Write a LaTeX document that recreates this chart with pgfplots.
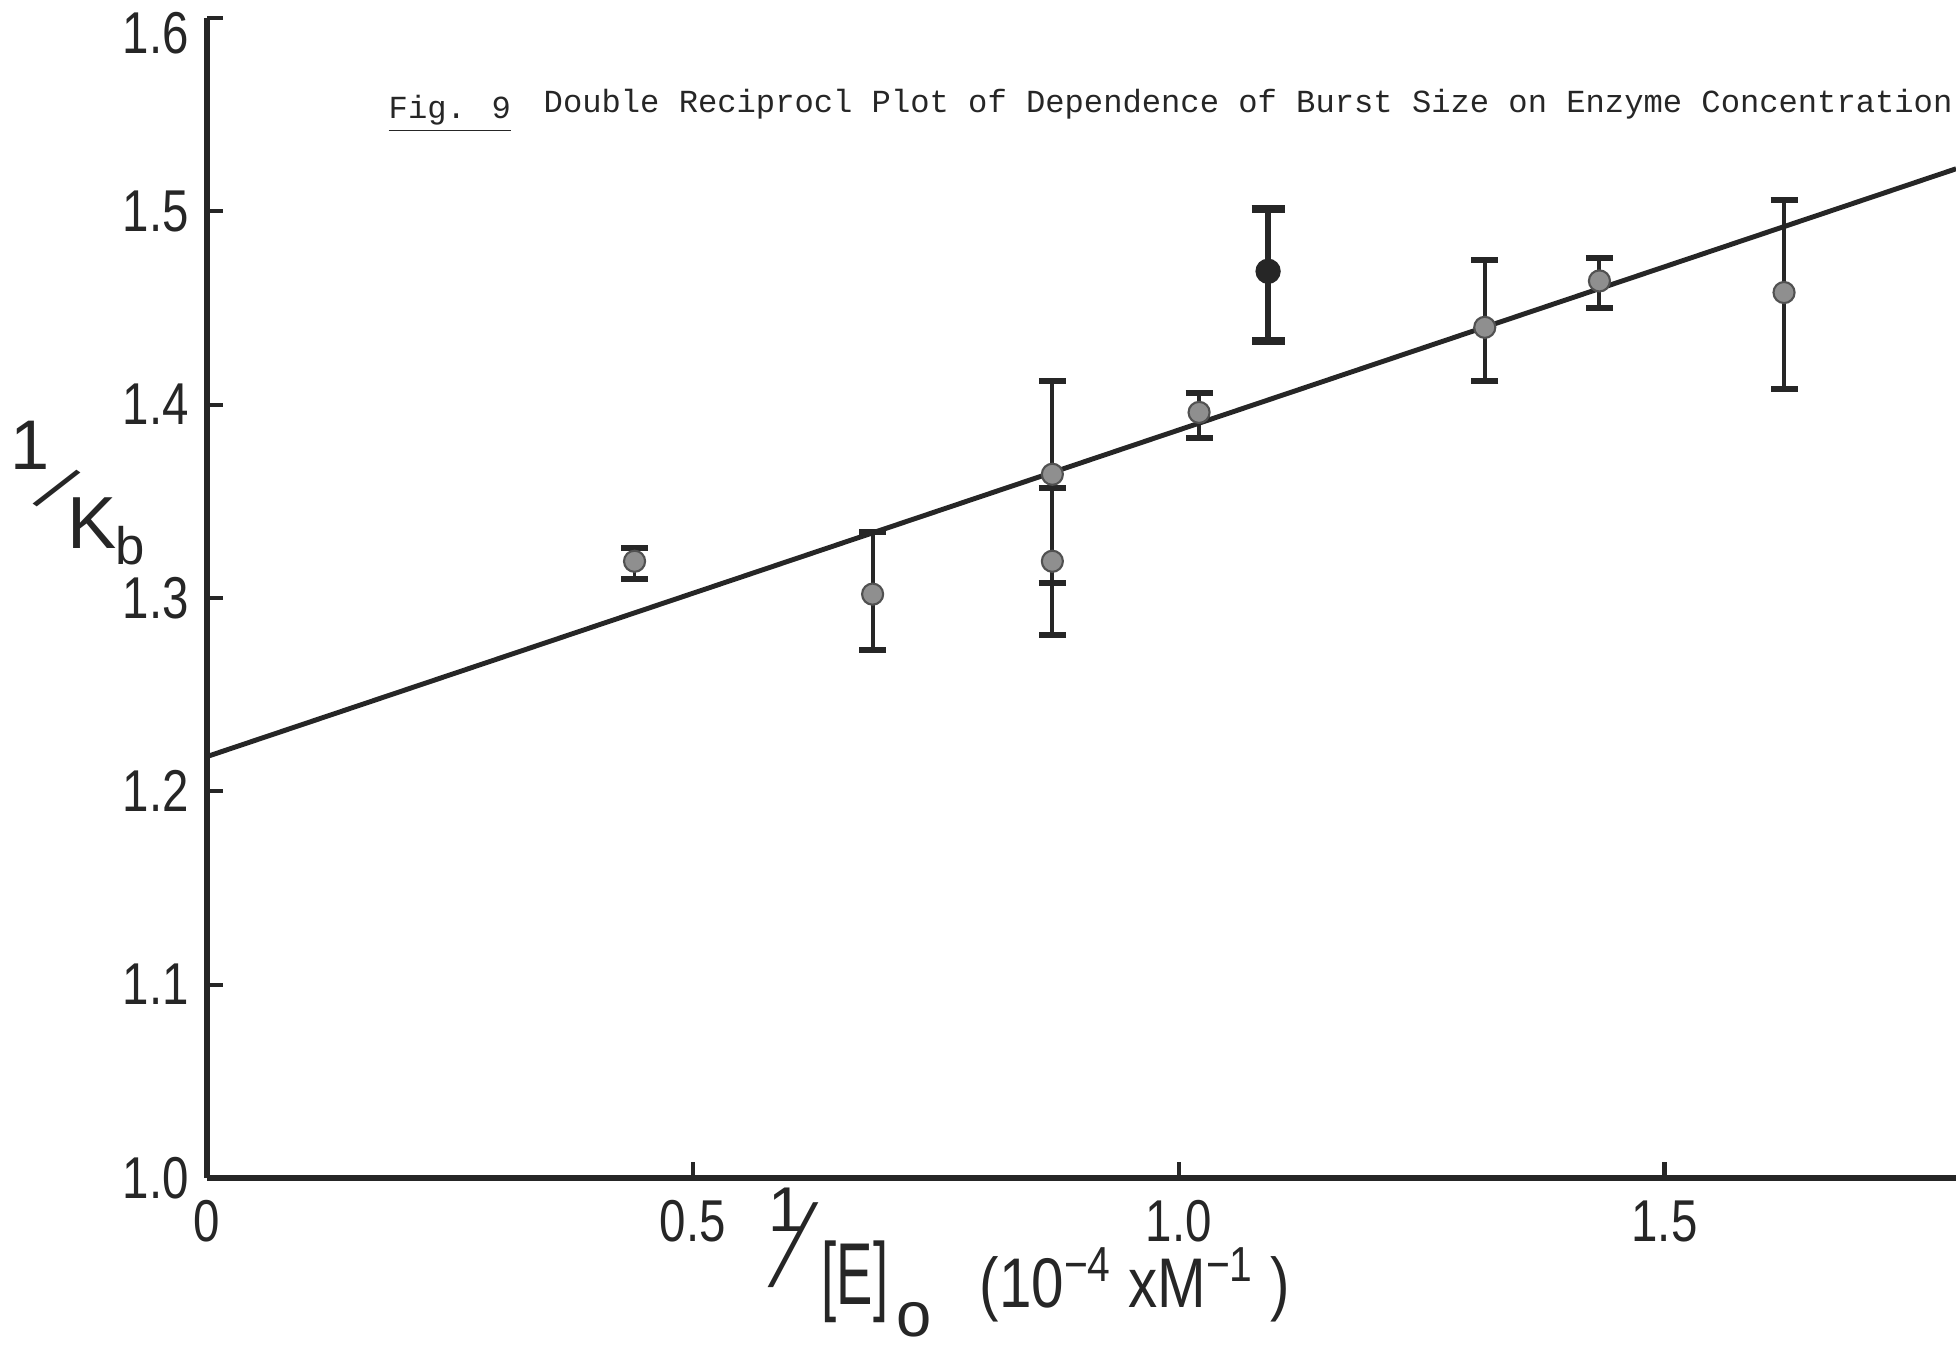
\documentclass[border=0pt]{standalone}
\usepackage{pgfplots}
\usepackage{pgfplotstable}
\pgfplotsset{compat=1.18}
\usepackage{fontspec}
\setmainfont{Liberation Sans}
\newfontfamily\tw{Liberation Mono}
\definecolor{ink}{HTML}{262626}
\definecolor{dotfill}{HTML}{8F8F8F}
\newcommand{\tl}[1]{\scalebox{0.9}[1.12]{#1}}

\pgfplotstableread{
x y ep em
0.440 1.319 0.007 0.009
0.685 1.302 0.032 0.029
0.870 1.364 0.048 0.007
0.870 1.319 0.038 0.038
1.021 1.396 0.010 0.013
1.315 1.440 0.035 0.028
1.433 1.464 0.012 0.014
1.623 1.458 0.048 0.050
}\graypts
\pgfplotstableread{
x y ep em
1.092 1.469 0.032 0.036
}\darkpts
\pgfplotstableread{
x y ep em
0.870 1.308 0 0
}\extracap

\begin{document}
\begin{tikzpicture}[x=1mm,y=1mm]
\begin{axis}[
  at={(20.7mm,16.7mm)}, anchor=south west,
  scale only axis, width=174.9mm, height=116mm,
  xmin=0, xmax=1.8, ymin=1.0, ymax=1.6,
  axis lines=left,
  axis line style={-, line width=1.8pt, draw=ink},
  clip=false,
  tick align=inside,
  major tick length=1.6mm,
  tick style={line width=1.2pt, draw=ink},
  xtick={0,0.5,1.0,1.5},
  xticklabels={\tl{0},\tl{0.5},\tl{1.0},\tl{1.5}},
  ytick={1.0,1.1,1.2,1.3,1.4,1.5},
  yticklabels={\tl{1.0},\tl{1.1},\tl{1.2},\tl{1.3},\tl{1.4},\tl{1.5}},
  extra y ticks={1.6},
  extra y tick labels={\tl{1.6}},
  extra y tick style={yticklabel style={yshift=-1.5mm}},
  ticklabel style={font=\fontsize{15}{15}\selectfont, text=ink},
  xticklabel style={yshift=-1.0mm},
  yticklabel style={xshift=-0.6mm},
]
\addplot[ink, line width=1.4pt] coordinates {(0,1.218) (1.8,1.522)};
\addplot[only marks, mark=*, mark size=3.0pt,
  mark options={fill=dotfill, draw=ink!80, line width=0.6pt},
  error bars/.cd, y dir=both, y explicit,
  error bar style={line width=1.1pt, draw=ink},
  error mark options={rotate=90, mark size=1.35mm, line width=1.7pt, draw=ink}]
  table[x=x, y=y, y error plus=ep, y error minus=em] {\graypts};
\addplot[only marks, mark=*, mark size=3.3pt,
  mark options={fill=ink, draw=ink, line width=0.6pt},
  error bars/.cd, y dir=both, y explicit,
  error bar style={line width=1.6pt, draw=ink},
  error mark options={rotate=90, mark size=1.65mm, line width=2.3pt, draw=ink}]
  table[x=x, y=y, y error plus=ep, y error minus=em] {\darkpts};
\addplot[only marks, mark=*, mark size=0pt, mark options={draw=none, fill=none},
  error bars/.cd, y dir=both, y explicit,
  error bar style={line width=1.1pt, draw=ink},
  error mark options={rotate=90, mark size=1.35mm, line width=1.7pt, draw=ink}]
  table[x=x, y=y, y error plus=ep, y error minus=em] {\extracap};
\end{axis}

% y label 1/K_b
\node[text=ink, inner sep=0pt, font=\fontsize{20}{20}\selectfont] at (3.0,90.0) {1};
\node[text=ink, inner sep=0pt, font=\fontsize{18}{18}\selectfont] at (5.7,85.6)
  {\rotatebox{-52}{\scalebox{1}[1.15]{\rotatebox{15}{/}}}};
\node[text=ink, inner sep=0pt, font=\fontsize{21}{21}\selectfont] at (9.2,82.2) {K};
\node[text=ink, inner sep=0pt, font=\fontsize{15}{15}\selectfont] at (13.0,79.9) {b};

% x label 1/[E]_o (10^-4 x M^-1)
\node[text=ink, inner sep=0pt, font=\fontsize{18}{18}\selectfont] at (78.6,13.5) {1};
\node[text=ink, inner sep=0pt, font=\fontsize{18}{18}\selectfont] at (79.3,10.0)
  {\rotatebox{-28}{\scalebox{1}[2.0]{\rotatebox{15}{/}}}};
\node[text=ink, inner sep=0pt, font=\fontsize{25}{25}\selectfont] at (85.5,6.3) {\scalebox{0.62}[1]{[E]}};
\node[text=ink, inner sep=0pt, font=\fontsize{18}{18}\selectfont] at (91.4,2.5) {o};
\node[text=ink, font=\fontsize{20}{20}\selectfont, anchor=west, inner sep=0pt] at (97.9,6.0)
  {\scalebox{0.83}[1]{(10\textsuperscript{−4} xM\textsuperscript{−1} )}};

% title
\node[text=ink, font=\tw\fontsize{9.15}{9.15}\selectfont, anchor=base west, inner sep=0pt] at (38.8,122.6) {\underline{Fig. 9}};
\node[text=ink, font=\tw\fontsize{9.15}{9.15}\selectfont, anchor=base west, inner sep=0pt] at (54.3,123.2)
  {Double Reciprocl Plot of Dependence of Burst Size on Enzyme Concentration};

\pgfresetboundingbox
\path[use as bounding box] (0,0) rectangle (195.6,134.5);
\end{tikzpicture}
\end{document}
